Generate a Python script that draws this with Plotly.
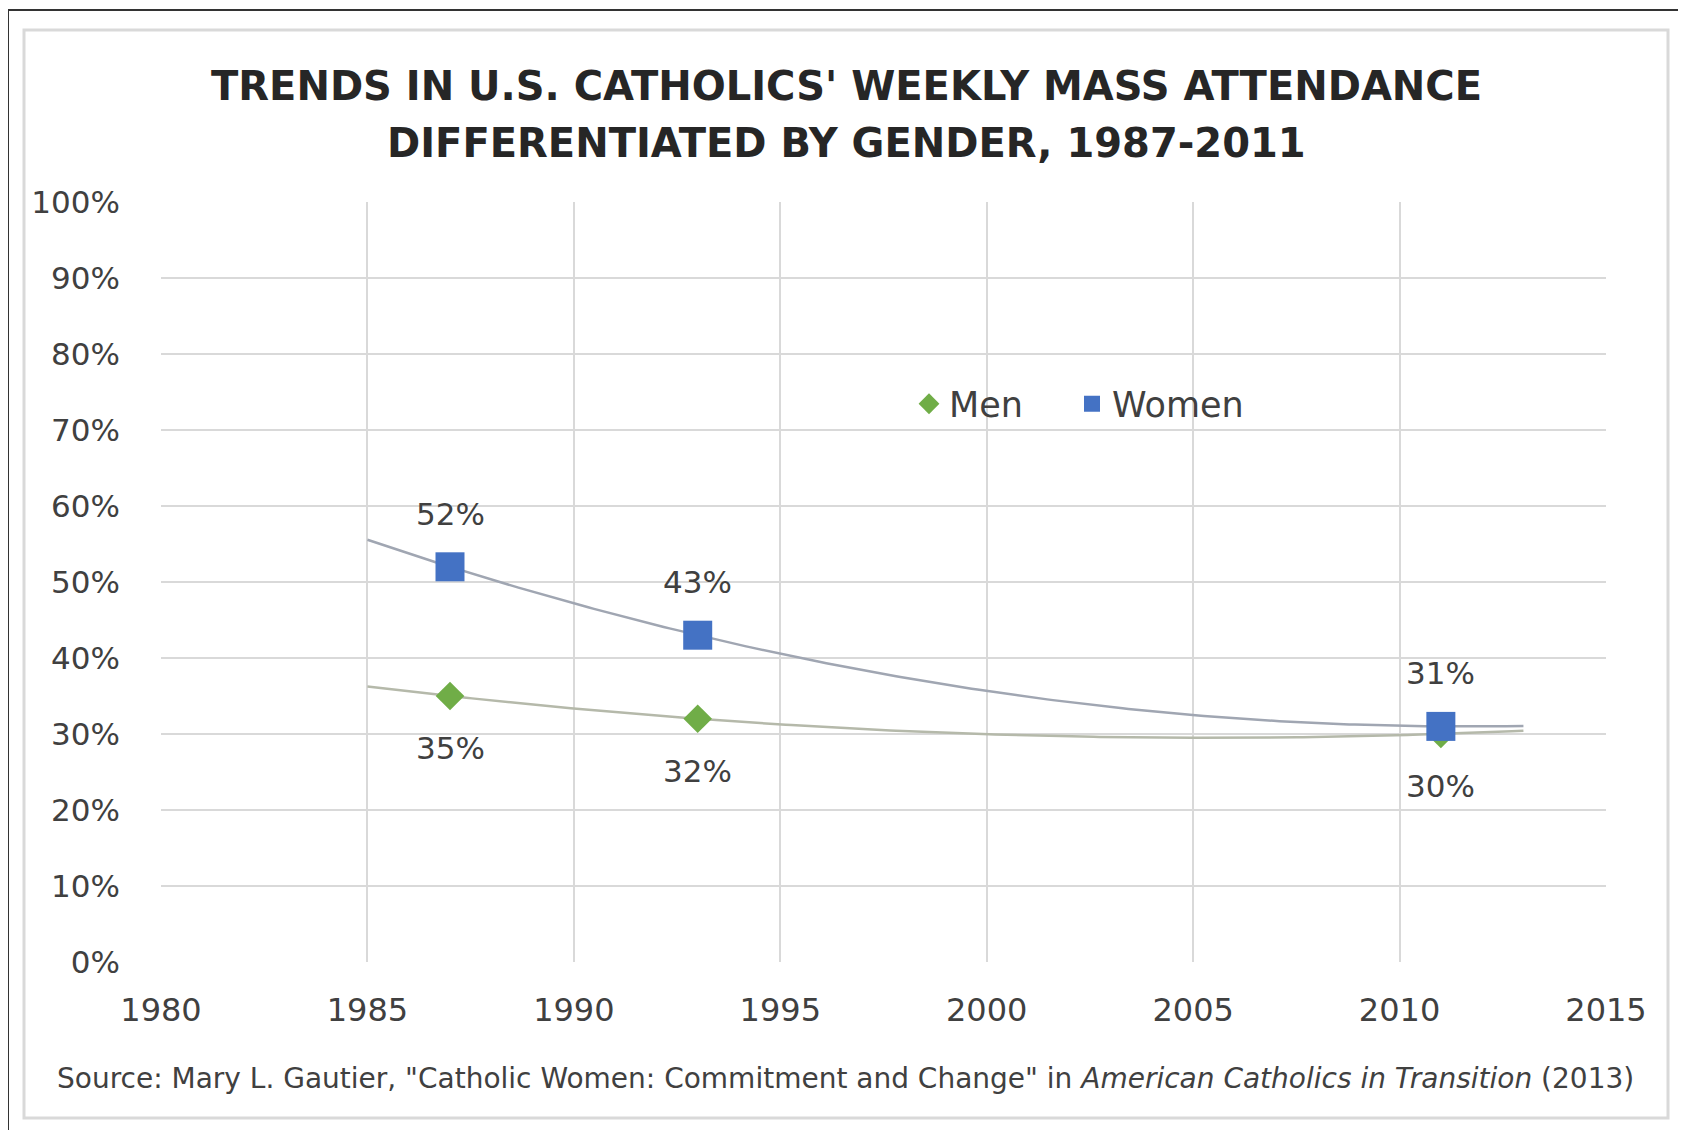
import numpy as np
import plotly.graph_objects as go

# ---- data ----
years = [1987, 1993, 2011]
men = [35, 32, 30]
women = [52, 43, 31]
x_ticks = [1980, 1985, 1990, 1995, 2000, 2005, 2010, 2015]
title_lines = ["TRENDS IN U.S. CATHOLICS' WEEKLY MASS ATTENDANCE",
               "DIFFERENTIATED BY GENDER, 1987-2011"]
source_text = ('Source: Mary L. Gautier, "Catholic Women: Commitment and Change" in '
               '<i>American Catholics in Transition</i> (2013)')

# page body has an 8px margin; figure is drawn that much smaller
OFF = 8
W, H = 1686 - OFF, 1130 - OFF
# plot area in page (reference) pixel coordinates
L, R, T, B = 161, 1606, 202, 962


def px(xp):
    return (xp - L) / (R - L)


def py(yp):
    return (B - yp) / (B - T)


FONT = "DejaVu Sans"
TXT = "#404040"
MEN_C = "#70AD47"
WOMEN_C = "#4472C4"

# polynomial (order 2) trendlines, extended back/forward like the original
tx = np.linspace(1985, 2013, 200)
men_fit = np.polyval(np.polyfit(years, men, 2), tx)
women_fit = np.polyval(np.polyfit(years, women, 2), tx)

fig = go.Figure()
fig.add_trace(go.Scatter(x=tx, y=women_fit, mode="lines", showlegend=False,
                         line=dict(color="#a0a6b2", width=2.5), hoverinfo="skip"))
fig.add_trace(go.Scatter(x=tx, y=men_fit, mode="lines", showlegend=False,
                         line=dict(color="#b5b9aa", width=2.5), hoverinfo="skip"))
fig.add_trace(go.Scatter(x=years, y=men, mode="markers", name="Men", legend="legend",
                         marker=dict(symbol="diamond", size=22, color=MEN_C)))
fig.add_trace(go.Scatter(x=years, y=women, mode="markers", name="Women", legend="legend2",
                         marker=dict(symbol="square", size=29, color=WOMEN_C)))

annotations = []
for x, v in zip(years, women):
    annotations.append(dict(x=x, y=v, text=f"{v}%", showarrow=False, yshift=53,
                            font=dict(family=FONT, size=31, color=TXT)))
for x, v in zip(years, men):
    annotations.append(dict(x=x, y=v, text=f"{v}%", showarrow=False, yshift=-52,
                            font=dict(family=FONT, size=31, color=TXT)))

annotations.append(dict(xref="paper", yref="paper", x=px(846), y=py(86),
                        text=f"<b>{title_lines[0]}</b>", showarrow=False,
                        xanchor="center", yanchor="middle",
                        font=dict(family=FONT, size=40, color="#262626")))
annotations.append(dict(xref="paper", yref="paper", x=px(846), y=py(143),
                        text=f"<b>{title_lines[1]}</b>", showarrow=False,
                        xanchor="center", yanchor="middle",
                        font=dict(family=FONT, size=40, color="#262626")))
annotations.append(dict(xref="paper", yref="paper", x=px(845), y=py(1078),
                        text=source_text, showarrow=False,
                        xanchor="center", yanchor="middle",
                        font=dict(family=FONT, size=28, color=TXT)))

shapes = [
    # inner light frame
    dict(type="rect", xref="paper", yref="paper", x0=px(24), x1=px(1668),
         y0=py(30), y1=py(1118), line=dict(color="#d9d9d9", width=3)),
    # outer dark border (top and left)
    dict(type="line", xref="paper", yref="paper", x0=px(8), x1=px(1700),
         y0=py(10), y1=py(10), line=dict(color="#333333", width=2)),
    dict(type="line", xref="paper", yref="paper", x0=px(8), x1=px(8),
         y0=py(10), y1=py(1140), line=dict(color="#333333", width=2)),
]

legend_style = dict(orientation="h", xanchor="left", yanchor="middle",
                    font=dict(family=FONT, size=35, color=TXT),
                    bgcolor="rgba(0,0,0,0)")

fig.update_layout(
    width=W, height=H,
    margin=dict(l=L - OFF, r=W - (R - OFF), t=T - OFF, b=H - (B - OFF)),
    paper_bgcolor="white", plot_bgcolor="white",
    showlegend=True,
    legend=dict(x=px(909), y=py(404), **legend_style),
    legend2=dict(x=px(1072), y=py(404), **legend_style),
    annotations=annotations,
    shapes=shapes,
    font=dict(family=FONT, color=TXT),
)
fig.update_xaxes(range=[1980, 2015], tickvals=x_ticks, showgrid=True,
                 gridcolor="#d9d9d9", gridwidth=2, zeroline=False,
                 showline=False, ticks="", ticklabelstandoff=26,
                 tickfont=dict(family=FONT, size=32, color=TXT))
fig.update_yaxes(range=[0, 100], dtick=10, ticksuffix="%", showgrid=True,
                 gridcolor="#d9d9d9", gridwidth=2, zeroline=False,
                 showline=False, ticks="", ticklabelstandoff=40,
                 tickfont=dict(family=FONT, size=31, color=TXT))

fig.write_html("out.html")
